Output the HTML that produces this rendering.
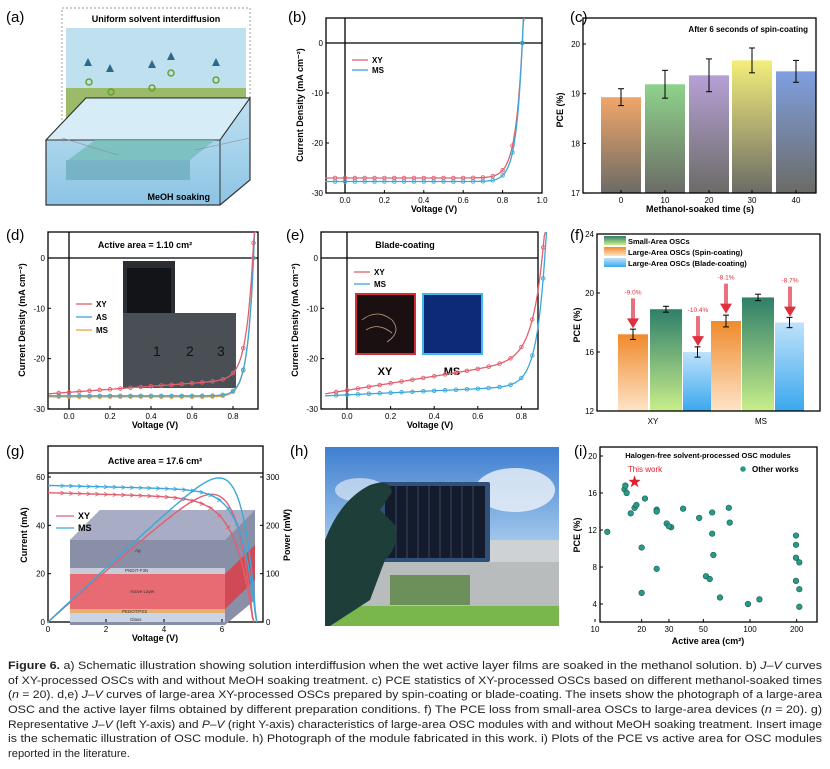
<!DOCTYPE html>
<html><head><meta charset="utf-8"><style>
html,body{margin:0;padding:0;background:#fff}
svg{display:block;font-family:"Liberation Sans",Arial,sans-serif}
.ax{fill:none;stroke:#000;stroke-width:1.3}
.lbl{font-size:9px;font-weight:bold;fill:#000}
.pl{font-size:15px;fill:#000}
.cap{font-size:11.2px;fill:#222;font-family:"Liberation Sans Narrow","Liberation Sans",sans-serif}
</style></head><body>
<svg id="s" width="830" height="769" viewBox="0 0 830 769" xmlns="http://www.w3.org/2000/svg">
<defs>
<linearGradient id="cg0" x1="0" y1="0" x2="0" y2="1"><stop offset="0" stop-color="#f1a66a"/><stop offset="1" stop-color="#6b6b66"/></linearGradient>
<linearGradient id="cg1" x1="0" y1="0" x2="0" y2="1"><stop offset="0" stop-color="#8fd38b"/><stop offset="1" stop-color="#6b6b66"/></linearGradient>
<linearGradient id="cg2" x1="0" y1="0" x2="0" y2="1"><stop offset="0" stop-color="#b6a0d6"/><stop offset="1" stop-color="#6b6b66"/></linearGradient>
<linearGradient id="cg3" x1="0" y1="0" x2="0" y2="1"><stop offset="0" stop-color="#f3ee7a"/><stop offset="1" stop-color="#6b6b66"/></linearGradient>
<linearGradient id="cg4" x1="0" y1="0" x2="0" y2="1"><stop offset="0" stop-color="#7f9fe0"/><stop offset="1" stop-color="#6b6b66"/></linearGradient>
<linearGradient id="fo" x1="0" y1="0" x2="0" y2="1"><stop offset="0" stop-color="#f08a2c"/><stop offset="1" stop-color="#fde4c8"/></linearGradient>
<linearGradient id="fg" x1="0" y1="0" x2="0" y2="1"><stop offset="0" stop-color="#2f7f6a"/><stop offset="1" stop-color="#c8ee8a"/></linearGradient>
<linearGradient id="fb" x1="0" y1="0" x2="0" y2="1"><stop offset="0" stop-color="#bfe2fa"/><stop offset="1" stop-color="#3aa8ee"/></linearGradient>
<linearGradient id="sky" x1="0" y1="0" x2="0" y2="1"><stop offset="0" stop-color="#3f7fd0"/><stop offset="0.5" stop-color="#9cc3ea"/><stop offset="1" stop-color="#d8e3ea"/></linearGradient>
<linearGradient id="wat" x1="0" y1="0" x2="0" y2="1"><stop offset="0" stop-color="#bfe0f2"/><stop offset="1" stop-color="#8cc4e4"/></linearGradient>
</defs>
<rect width="830" height="769" fill="#fff"/>

<!-- (a) -->
<text x="6" y="22" class="pl">(a)</text>
<rect x="62" y="8" width="188" height="130" fill="#fff" stroke="#999" stroke-dasharray="2,2"/>
<text x="156" y="22" text-anchor="middle" class="lbl">Uniform solvent interdiffusion</text>
<rect x="66" y="28" width="180" height="60" fill="#bfe0ee"/>
<rect x="66" y="88" width="180" height="44" fill="#9cbb6a"/>
<g fill="#2d6a8a"><path d="M88 58l4 8h-8z"/><path d="M110 64l4 8h-8z"/><path d="M152 60l4 8h-8z"/><path d="M171 52l4 8h-8z"/><path d="M216 58l4 8h-8z"/></g>
<g fill="none" stroke="#6aa030" stroke-width="1.5"><circle cx="89" cy="82" r="3"/><circle cx="111" cy="92" r="3"/><circle cx="152" cy="88" r="3"/><circle cx="171" cy="73" r="3"/><circle cx="216" cy="80" r="3"/></g>
<circle cx="118" cy="123" r="3" fill="none" stroke="#6aa030" stroke-width="1.5"/><text x="124" y="127" class="lbl">XY</text>
<circle cx="161" cy="123" r="4" fill="#eee"/><text x="168" y="127" class="lbl">MeOH</text>
<path d="M46 140 L86 98 L250 98 L250 180 L220 205 L46 205 Z" fill="url(#wat)" stroke="#333" stroke-width="1.2"/>
<path d="M46 140 L86 98 L250 98 L220 140 Z" fill="#d6ecf6" stroke="#333" stroke-width="1"/>
<line x1="220" y1="140" x2="220" y2="205" stroke="#333"/>
<line x1="250" y1="98" x2="220" y2="140" stroke="#333"/>
<path d="M68 160 L95 140 L215 140 L190 160 Z" fill="#74bdb8" opacity=".8"/>
<rect x="66" y="160" width="124" height="20" fill="#66a8b8" opacity=".7"/>
<line x1="62" y1="138" x2="118" y2="155" stroke="#888" stroke-width=".6"/><line x1="250" y1="138" x2="195" y2="150" stroke="#888" stroke-width=".6"/>
<text x="210" y="200" text-anchor="end" class="lbl" fill="#1c3a55">MeOH soaking</text>

<!-- (b) -->
<text x="288" y="22" class="pl">(b)</text>
<rect x="326" y="18" width="216" height="175" class="ax"/>
<line x1="326" y1="43" x2="542" y2="43" stroke="#000" stroke-width="1.3"/>
<line x1="345" y1="18" x2="345" y2="193" stroke="#000" stroke-width="1.3"/>
<g id="b"></g>

<!-- (c) -->
<text x="570" y="22" class="pl">(c)</text>
<g id="c"></g>
<rect x="583" y="18" width="233" height="175" class="ax"/>
<text x="808" y="32" text-anchor="end" style="font-size:8px;font-weight:bold">After 6 seconds of spin-coating</text>

<!-- (d) -->
<text x="6" y="240" class="pl">(d)</text>
<rect x="48" y="232" width="210" height="177" class="ax"/>
<line x1="48" y1="258" x2="258" y2="258" stroke="#000" stroke-width="1.3"/>
<line x1="69" y1="232" x2="69" y2="409" stroke="#000" stroke-width="1.3"/>
<text x="145" y="248" text-anchor="middle" style="font-size:9px;font-weight:bold">Active area = 1.10 cm²</text>
<rect x="123" y="261" width="52" height="82" fill="#2a2e33"/>
<rect x="127" y="268" width="44" height="68" fill="#121418"/>
<rect x="123" y="313" width="113" height="75" fill="#4a4f55"/>
<g style="font-size:14px;fill:#111"><text x="153" y="356">1</text><text x="186" y="356">2</text><text x="217" y="356">3</text></g>
<g id="d"></g>

<!-- (e) -->
<text x="286" y="240" class="pl">(e)</text>
<rect x="321" y="232" width="217" height="177" class="ax"/>
<line x1="321" y1="258" x2="538" y2="258" stroke="#000" stroke-width="1.3"/>
<line x1="347" y1="232" x2="347" y2="409" stroke="#000" stroke-width="1.3"/>
<text x="405" y="248" text-anchor="middle" style="font-size:9px;font-weight:bold">Blade-coating</text>
<rect x="356" y="294" width="59" height="60" fill="#1a1012" stroke="#d0303a" stroke-width="2"/>
<path d="M362 320 q15 -12 30 0 q10 12 -5 22 M366 330 q12 -8 26 3" stroke="#bfa080" fill="none" stroke-width=".8"/>
<rect x="423" y="294" width="59" height="60" fill="#0d2a78" stroke="#42b8e8" stroke-width="2"/>
<text x="385" y="375" text-anchor="middle" style="font-size:11px;font-weight:bold">XY</text>
<text x="452" y="375" text-anchor="middle" style="font-size:11px;font-weight:bold">MS</text>
<g id="e"></g>

<!-- (f) -->
<text x="570" y="240" class="pl">(f)</text>
<g id="f"></g>
<rect x="597" y="234" width="223" height="177" class="ax"/>

<!-- (g) -->
<text x="6" y="456" class="pl">(g)</text>
<rect x="48" y="446" width="215" height="176" class="ax"/>
<line x1="48" y1="473" x2="263" y2="473" stroke="#000" stroke-width="1.3"/>
<text x="155" y="464" text-anchor="middle" style="font-size:9px;font-weight:bold">Active area = 17.6 cm²</text>
<g id="gins">
<path d="M70 540 L100 510 L255 510 L255 600 L225 625 L70 625 Z" fill="#8a8fa8"/>
<path d="M70 540 L100 510 L255 510 L225 540 Z" fill="#a8acc4"/>
<rect x="70" y="574" width="155" height="35" fill="#e86a72"/>
<path d="M225 574 L255 545 L255 580 L225 609 Z" fill="#d04a55"/>
<rect x="70" y="568" width="155" height="6" fill="#c8ccd8"/>
<rect x="70" y="609" width="155" height="4" fill="#e8b070"/>
<rect x="70" y="613" width="155" height="9" fill="#c9d4e6"/>
<g style="font-size:4.5px" fill="#333"><text x="135" y="552">Ag</text><text x="125" y="572">PNDIT-F3N</text><text x="130" y="593">Active Layer</text><text x="122" y="613">PEDOT:PSS</text><text x="130" y="621">Glass</text></g>
</g>
<g id="g"></g>

<!-- (h) -->
<text x="290" y="456" class="pl">(h)</text>
<rect x="325" y="447" width="234" height="179" fill="url(#sky)"/>
<ellipse cx="515" cy="490" rx="40" ry="22" fill="#eef3f8" opacity=".8"/>
<ellipse cx="360" cy="490" rx="25" ry="12" fill="#eef3f8" opacity=".6"/>
<rect x="480" y="540" width="79" height="75" fill="#cfd2d4"/>
<rect x="325" y="562" width="234" height="50" fill="#b8bcbc"/>
<rect x="390" y="575" width="80" height="30" fill="#6d8f5a"/>
<rect x="325" y="606" width="234" height="20" fill="#79b64c"/>
<rect x="380" y="482" width="110" height="80" rx="2" fill="#30507a"/>
<rect x="385" y="486" width="100" height="72" fill="#141b2c"/>
<g stroke="#3a4a66" stroke-width="1"><line x1="396" y1="486" x2="396" y2="558"/><line x1="407" y1="486" x2="407" y2="558"/><line x1="418" y1="486" x2="418" y2="558"/><line x1="429" y1="486" x2="429" y2="558"/><line x1="440" y1="486" x2="440" y2="558"/><line x1="451" y1="486" x2="451" y2="558"/><line x1="462" y1="486" x2="462" y2="558"/><line x1="473" y1="486" x2="473" y2="558"/></g>
<path d="M325 540 Q340 500 370 485 Q390 478 392 492 L380 510 L395 525 Q400 545 385 560 L370 600 L330 626 L325 626 Z" fill="#1e3e3a"/>

<!-- (i) -->
<text x="574" y="456" class="pl">(i)</text>
<rect x="600" y="447" width="217" height="175" class="ax"/>
<g id="i"></g>

<!-- caption -->
<g class="cap">
<text x="8" y="669" textLength="814" lengthAdjust="spacingAndGlyphs"><tspan font-weight="bold">Figure 6.</tspan> a) Schematic illustration showing solution interdiffusion when the wet active layer films are soaked in the methanol solution. b) <tspan font-style="italic">J–V</tspan> curves</text>
<text x="8" y="684" textLength="814" lengthAdjust="spacingAndGlyphs">of XY-processed OSCs with and without MeOH soaking treatment. c) PCE statistics of XY-processed OSCs based on different methanol-soaked times</text>
<text x="8" y="698" textLength="814" lengthAdjust="spacingAndGlyphs">(<tspan font-style="italic">n</tspan> = 20). d,e) <tspan font-style="italic">J–V</tspan> curves of large-area XY-processed OSCs prepared by spin-coating or blade-coating. The insets show the photograph of a large-area</text>
<text x="8" y="713" textLength="814" lengthAdjust="spacingAndGlyphs">OSC and the active layer films obtained by different preparation conditions. f) The PCE loss from small-area OSCs to large-area devices (<tspan font-style="italic">n</tspan> = 20). g)</text>
<text x="8" y="728" textLength="814" lengthAdjust="spacingAndGlyphs">Representative <tspan font-style="italic">J–V</tspan> (left Y-axis) and <tspan font-style="italic">P–V</tspan> (right Y-axis) characteristics of large-area OSC modules with and without MeOH soaking treatment. Insert image</text>
<text x="8" y="742" textLength="814" lengthAdjust="spacingAndGlyphs">is the schematic illustration of OSC module. h) Photograph of the module fabricated in this work. i) Plots of the PCE vs active area for OSC modules</text>
<text x="8" y="757">reported in the literature.</text>
</g>
</svg>
<script>
const NS="http://www.w3.org/2000/svg";
function el(p,t,a,txt){const e=document.createElementNS(NS,t);for(const k in a)e.setAttribute(k,a[k]);if(txt!==undefined)e.textContent=txt;p.appendChild(e);return e;}
function txt(p,x,y,s,o){o=o||{};return el(p,"text",Object.assign({x:x,y:y,"font-size":o.fs||8,"text-anchor":o.a||"middle","font-weight":o.w||"normal",fill:o.f||"#000"},o.tr?{transform:o.tr}:{}),s);}
function ticksX(g,vals,fx,y,lab){vals.forEach(v=>{const x=fx(v);el(g,"line",{x1:x,y1:y,x2:x,y2:y-3,stroke:"#000"});if(lab)txt(g,x,y+10,lab(v));});}
function ticksY(g,vals,fy,x,lab,right){vals.forEach(v=>{const y=fy(v);el(g,"line",{x1:x,y1:y,x2:right?x-3:x+3,y2:y,stroke:"#000"});if(lab)txt(g,right?x+3:x-3,y+3,lab(v),{a:right?"start":"end"});});}
function jv(g,fx,fy,Jsc,Voc,n,v0,v1,col,clipTop,slope){let d="";for(let v=v0;v<=v1+1e-9;v+=0.005){let J=-Jsc*(1-Math.exp((v-Voc)/n))+ (slope||0)*(v-v0);let y=fy(J);if(y<clipTop){y=clipTop;}d+=(d?"L":"M")+fx(v).toFixed(1)+" "+y.toFixed(1);if(y<=clipTop)break;}
el(g,"path",{d:d,fill:"none",stroke:col,"stroke-width":1.3});
for(let v=v0+0.05;v<=v1;v+=0.05){let J=-Jsc*(1-Math.exp((v-Voc)/n))+(slope||0)*(v-v0);const y=fy(J);if(y<clipTop)break;el(g,"circle",{cx:fx(v),cy:y,r:1.8,fill:"none",stroke:col,"stroke-width":.9});}}
const R="#e06070",B="#3aa8d8",O="#f0a040";
{const g=document.getElementById("b");const fx=v=>345+v*197,fy=j=>43-j*5;
ticksX(g,[0,0.2,0.4,0.6,0.8,1.0],fx,193,v=>v.toFixed(1));ticksY(g,[0,-10,-20,-30],fy,326,v=>v);
jv(g,fx,fy,27.0,0.9,0.035,-0.1,0.95,R,18);jv(g,fx,fy,27.7,0.9,0.032,-0.1,0.95,B,18);
txt(g,434,212,"Voltage (V)",{fs:9,w:"bold"});txt(g,0,0,"Current Density (mA cm⁻²)",{fs:9,w:"bold",tr:"translate(303,105) rotate(-90)"});
el(g,"line",{x1:352,y1:60,x2:368,y2:60,stroke:R,"stroke-width":1.3});txt(g,372,63,"XY",{a:"start",w:"bold"});
el(g,"line",{x1:352,y1:70,x2:368,y2:70,stroke:B,"stroke-width":1.3});txt(g,372,73,"MS",{a:"start",w:"bold"});}
{const g=document.getElementById("c");const fy=p=>44+(20-p)*49.7;const xs=[621,665,709,752,796];const vals=[18.93,19.19,19.37,19.67,19.45],er=[.17,.28,.33,.25,.22];
xs.forEach((x,i)=>{el(g,"rect",{x:x-20,y:fy(vals[i]),width:40,height:193-fy(vals[i]),fill:`url(#cg${i})`});
el(g,"line",{x1:x,y1:fy(vals[i]+er[i]),x2:x,y2:fy(vals[i]-er[i]),stroke:"#000"});
[vals[i]+er[i],vals[i]-er[i]].forEach(v=>el(g,"line",{x1:x-3,y1:fy(v),x2:x+3,y2:fy(v),stroke:"#000"}));});
ticksX(g,[0,1,2,3,4],i=>xs[i],193,i=>i*10);ticksY(g,[17,18,19,20],fy,583,v=>v);
txt(g,700,212,"Methanol-soaked time (s)",{fs:9,w:"bold"});txt(g,0,0,"PCE (%)",{fs:9,w:"bold",tr:"translate(563,110) rotate(-90)"});}
{const g=document.getElementById("d");const fx=v=>69+v*205,fy=j=>258-j*5.03;
ticksX(g,[0,0.2,0.4,0.6,0.8],fx,409,v=>v.toFixed(1));ticksY(g,[0,-10,-20,-30],fy,48,v=>v);
jv(g,fx,fy,27.6,0.9,0.03,-0.1,0.95,O,232,0);jv(g,fx,fy,27.4,0.9,0.03,-0.1,0.95,B,232,0);jv(g,fx,fy,27.0,0.9,0.034,-0.1,0.95,R,232,3);
txt(g,155,428,"Voltage (V)",{fs:9,w:"bold"});txt(g,0,0,"Current Density (mA cm⁻²)",{fs:9,w:"bold",tr:"translate(25,320) rotate(-90)"});
[[R,"XY",307],[B,"AS",320],[O,"MS",333]].forEach(([c,s,y])=>{el(g,"line",{x1:76,y1:y-3,x2:92,y2:y-3,stroke:c,"stroke-width":1.3});txt(g,96,y,s,{a:"start",w:"bold"});});}
{const g=document.getElementById("e");const fx=v=>347+v*218,fy=j=>258-j*5.03;
ticksX(g,[0,0.2,0.4,0.6,0.8],fx,409,v=>v.toFixed(1));ticksY(g,[0,-10,-20,-30],fy,321,v=>v);
jv(g,fx,fy,27.4,0.91,0.04,-0.1,0.95,B,232,2);jv(g,fx,fy,27.0,0.91,0.05,-0.1,0.95,R,232,7);
txt(g,430,428,"Voltage (V)",{fs:9,w:"bold"});txt(g,0,0,"Current Density (mA cm⁻²)",{fs:9,w:"bold",tr:"translate(298,320) rotate(-90)"});
el(g,"line",{x1:354,y1:272,x2:370,y2:272,stroke:R,"stroke-width":1.3});txt(g,374,275,"XY",{a:"start",w:"bold"});
el(g,"line",{x1:354,y1:284,x2:370,y2:284,stroke:B,"stroke-width":1.3});txt(g,374,287,"MS",{a:"start",w:"bold"});}
{const g=document.getElementById("f");const fy=p=>234+(24-p)*14.75;
const bars=[[618,30,17.2,.35,"fo"],[650,32,18.9,.2,"fg"],[683,29,16.0,.35,"fb"],[711,30,18.1,.4,"fo"],[742,32,19.7,.22,"fg"],[775,29,18.0,.35,"fb"]];
bars.forEach(([x,w,v,e,f])=>{el(g,"rect",{x:x,y:fy(v),width:w,height:411-fy(v),fill:`url(#${f})`});const cx=x+w/2;
el(g,"line",{x1:cx,y1:fy(v+e),x2:cx,y2:fy(v-e),stroke:"#000"});[v+e,v-e].forEach(t=>el(g,"line",{x1:cx-3,y1:fy(t),x2:cx+3,y2:fy(t),stroke:"#000"}));});
[[633,17.6,"-9.0%"],[698,16.4,"-10.4%"],[726,18.6,"-8.1%"],[790,18.4,"-8.7%"]].forEach(([x,v,s])=>{const y=fy(v);el(g,"rect",{x:x-2,y:y-30,width:4,height:22,fill:"#e0505a",opacity:.8});el(g,"path",{d:`M${x-6} ${y-10}L${x+6} ${y-10}L${x} ${y}Z`,fill:"#e03040"});txt(g,x,y-34,s,{fs:6.5,f:"#e03040"});});
ticksY(g,[12,16,20,24],fy,597,v=>v);txt(g,653,424,"XY");txt(g,761,424,"MS");
txt(g,0,0,"PCE (%)",{fs:9,w:"bold",tr:"translate(580,325) rotate(-90)"});
[["fg","Small-Area OSCs",243],["fo","Large-Area OSCs (Spin-coating)",254],["fb","Large-Area OSCs (Blade-coating)",265]].forEach(([f,s,y])=>{el(g,"rect",{x:604,y:y-7,width:22,height:9,fill:`url(#${f})`});txt(g,628,y+1,s,{a:"start",w:"bold",fs:7.5});});}
{const g=document.getElementById("g");const fx=v=>48+v*29,fy=i=>622-i*2.417,fp=p=>622-p*0.4833;
ticksX(g,[0,2,4,6],fx,622,v=>v);ticksY(g,[0,20,40,60],fy,48,v=>v);
[0,100,200,300].forEach(p=>{el(g,"line",{x1:263,y1:fp(p),x2:260,y2:fp(p),stroke:"#000"});txt(g,266,fp(p)+3,p,{a:"start"});});
function cur(Isc,Voc,n,col,sl){let d="",dp="";for(let v=0;v<=Voc+1e-9;v+=0.05){const I=Math.max(0,Isc*(1-Math.exp((v-Voc)/n))-sl*v);d+=(d?"L":"M")+fx(v).toFixed(1)+" "+fy(I).toFixed(1);dp+=(dp?"L":"M")+fx(v).toFixed(1)+" "+fp(v*I).toFixed(1);}
el(g,"path",{d:d,fill:"none",stroke:col,"stroke-width":1.4});el(g,"path",{d:dp,fill:"none",stroke:col,"stroke-width":1.4});
for(let v=0.5;v<Voc-0.3;v+=0.3){const I=Isc*(1-Math.exp((v-Voc)/n))-sl*v;el(g,"path",{d:`M${fx(v)-2} ${fy(I)-2}L${fx(v)+2} ${fy(I)}L${fx(v)-2} ${fy(I)+2}`,fill:"none",stroke:col,"stroke-width":.8});}}
cur(53.5,7.1,0.6,R,0.35);cur(56.5,7.2,0.5,B,0.3);
txt(g,155,641,"Voltage (V)",{fs:9,w:"bold"});txt(g,0,0,"Current (mA)",{fs:9,w:"bold",tr:"translate(27,535) rotate(-90)"});txt(g,0,0,"Power (mW)",{fs:9,w:"bold",tr:"translate(290,535) rotate(-90)"});
el(g,"line",{x1:56,y1:516,x2:74,y2:516,stroke:R,"stroke-width":1.3});txt(g,78,519,"XY",{a:"start",w:"bold",fs:9});
el(g,"line",{x1:56,y1:528,x2:74,y2:528,stroke:B,"stroke-width":1.3});txt(g,78,531,"MS",{a:"start",w:"bold",fs:9});}
{const g=document.getElementById("i");const fx=a=>595+Math.log10(a/10)*155,fy=p=>456+(20-p)*9.25;
[10,20,30,50,100,200].forEach(a=>{el(g,"line",{x1:fx(a),y1:622,x2:fx(a),y2:619,stroke:"#000"});txt(g,fx(a),632,a);});
ticksY(g,[4,8,12,16,20],fy,600,v=>v);
const pts=[[12,11.8],[15.5,16.4],[15.7,16.8],[16,16],[17,13.8],[18,14.4],[18.5,14.7],[21,15.4],[20,10.1],[20,5.2],[25,14.2],[25,14],[25,7.8],[29,12.7],[31,12.3],[30,12.4],[37,14.3],[47,13.3],[52,7],[55,6.7],[57,13.9],[57,11.6],[58,9.3],[64,4.7],[73,14.4],[74,12.8],[97,4],[115,4.5],[198,11.4],[198,10.4],[198,9],[198,6.5],[208,8.5],[208,5.6],[208,3.7]];
pts.forEach(([a,p])=>el(g,"circle",{cx:fx(a),cy:fy(p),r:2.8,fill:"#2a9a88",stroke:"#16594e","stroke-width":.6}));
const sx=fx(18),sy=fy(17.2);let d="";for(let k=0;k<10;k++){const r=k%2?2.6:6.5,a=-Math.PI/2+k*Math.PI/5;d+=(k?"L":"M")+(sx+r*Math.cos(a)).toFixed(1)+" "+(sy+r*Math.sin(a)).toFixed(1);}el(g,"path",{d:d+"Z",fill:"#e02030"});
txt(g,645,472,"This work",{fs:8,f:"#e02030"});txt(g,708,458,"Halogen-free solvent-processed OSC modules",{fs:7.5,w:"bold"});
el(g,"circle",{cx:743,cy:469,r:2.8,fill:"#2a9a88"});txt(g,752,472,"Other works",{a:"start",w:"bold",fs:8});
txt(g,708,644,"Active area (cm²)",{fs:9,w:"bold"});txt(g,0,0,"PCE (%)",{fs:9,w:"bold",tr:"translate(580,535) rotate(-90)"});}
</script>
</body></html>
